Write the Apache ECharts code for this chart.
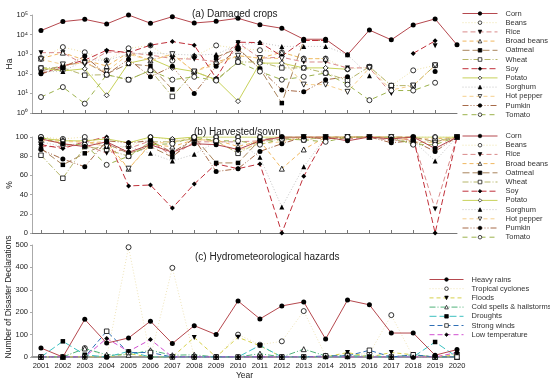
<!DOCTYPE html>
<html><head><meta charset="utf-8">
<script src="https://cdn.jsdelivr.net/npm/echarts@6/dist/echarts.min.js"></script>
<style>html,body{margin:0;padding:0;background:#fff}#c{width:550px;height:383px}</style>
</head><body><div id="c"></div>
<script>
const years = [2001,2002,2003,2004,2005,2006,2007,2008,2009,2010,2011,2012,2013,2014,2015,2016,2017,2018,2019,2020];
const logTicks = ['10⁰','10¹','10²','10³','10⁴','10⁵'];
const pctTicks = [0,20,40,60,80,100];
const countTicks = [0,100,200,300,400,500];

// (a) Damaged crops (Ha)
const cornA    = [16000,46000,60000,35000,100000,38000,82000,39000,48000,68000,32000,21000,5800,5800,930,17000,5400,31000,63000,3000];
const beansA   = [630,2300,1250,480,2000,2800,470,760,2800,2000,1600,1250,600,600,170,230,25,150,270,null];
const riceA    = [1200,1200,290,1300,1200,900,600,560,420,3800,630,700,400,400,200,200,10,null,2700,null];
const broadA   = [600,1200,500,250,1200,480,1000,130,400,830,630,1250,590,590,null,null,null,null,null,null];
const oatA     = [140,260,400,100,320,250,16,null,700,2000,180,3.2,5000,5000,null,null,null,null,null,null];
const wheatA   = [200,200,85,90,50,150,7,130,50,400,400,200,200,110,46,230,25,25,270,null];
const soyA     = [100,250,500,1600,1200,2900,4400,2900,60,4100,3900,800,5000,5000,null,null,null,1100,4800,null];
const potatoA  = [200,140,180,8,350,600,200,130,50,4,350,350,200,200,170,null,null,null,null,null];
const sorghumA = [130,130,500,500,1000,1200,1000,900,1000,3000,3900,2500,2500,2500,930,80,null,null,null,null];
const pepperA  = [550,300,350,130,1000,480,1000,130,300,830,630,600,28,28,12,200,15,25,270,null];
const pumkinA  = [100,200,800,90,560,70,240,10,240,1800,180,15,12,50,70,null,null,null,130,null];
const tomatoA  = [6.5,21,3,90,50,150,50,70,45,400,130,50,70,110,28,4.5,14,14,35,null];

// (b) Harvested/sown (%)
const cornB    = [98,93,90,95,84,92,84,93,92,87,96,100,100,100,96,100,98,100,88,100];
const beansB   = [100,98,100,88,90,100,97,100,100,100,100,100,97,100,100,100,100,100,100,100];
const riceB    = [90,90,92,83,88,96,80,95,95,95,96,98,100,100,98,100,96,98,25,100];
const broadB   = [97,97,94,95,67,92,90,97,97,90,96,67,87,100,100,100,100,98,98,100];
const oatB     = [88,71,83,93,83,90,79,100,73,73,97,100,100,100,100,100,100,100,95,100];
const wheatB   = [81,57,90,87,80,95,95,98,96,83,95,98,97,100,100,100,98,93,96,100];
const soyB     = [92,88,95,100,49,50,26,51,72,67,72,0,59,100,100,100,100,100,0,100];
const potatoB  = [99,96,96,98,94,100,98,100,100,100,100,100,100,100,100,100,100,100,100,100];
const sorghumB = [95,90,95,90,90,83,75,82,95,95,79,27,69,100,100,100,97,96,75,100];
const pepperB  = [96,95,95,90,67,93,95,99,94,86,93,95,100,100,100,100,100,95,94,100];
const pumkinB  = [87,77,69,96,94,96,84,98,64,67,85,93,100,98,100,100,94,96,85,100];
const tomatoB  = [100,92,92,71,80,92,93,100,96,96,92,98,97,95,100,100,100,92,92,100];

// (c) Hydrometeorological hazards (number of disaster declarations)
const heavyRains = [40,0,168,62,85,160,60,140,100,250,170,228,246,80,254,233,107,107,8,33];
const tropical   = [0,0,40,0,490,0,398,0,0,100,55,70,205,5,10,15,187,0,0,15];
const floods     = [0,0,0,0,15,0,0,87,0,88,50,0,0,0,20,0,20,10,0,10];
const coldSpells = [0,0,38,10,10,30,8,10,0,0,15,0,35,5,5,5,0,10,0,0];
const droughts   = [0,70,10,0,25,0,0,0,0,0,52,0,0,0,0,0,0,0,67,0];
const winds      = [0,0,0,115,20,20,0,0,0,0,0,0,0,5,5,30,0,10,0,0];
const lowTemp    = [0,0,0,83,25,78,0,0,0,0,0,0,0,0,0,0,0,0,0,20];

const cropNames = ['Corn','Beans','Rice','Broad beans','Oatmeal','Wheat','Soy','Potato','Sorghum','Hot pepper','Pumkin','Tomato'];
const hazardNames = ['Heavy rains','Tropical cyclones','Floods','Cold spells & hailstorms','Droughts','Strong winds','Low temperature'];

const FONT = 'Liberation Sans, Arial, sans-serif';
const cropStyle = {
  'Corn':       {c:'#b5484e', t:'solid',       s:'circle',   f:true},
  'Beans':      {c:'#eee2a6', t:[1,2],         s:'circle',   f:false},
  'Rice':       {c:'#d98a8a', t:[5,3],         s:'triangle', f:true, r:180},
  'Broad beans':{c:'#f0b860', t:[4,3],         s:'triangle', f:false},
  'Oatmeal':    {c:'#a8845c', t:[7,3],         s:'rect',     f:true},
  'Wheat':      {c:'#b6b66a', t:[6,2,1,2],     s:'rect',     f:false},
  'Soy':        {c:'#c0303a', t:[6,3],         s:'diamond',  f:true},
  'Potato':     {c:'#c8d25a', t:'solid',       s:'diamond',  f:false},
  'Sorghum':    {c:'#c4c4c4', t:[1,2],         s:'triangle', f:true},
  'Hot pepper': {c:'#f6cf8c', t:[4,3],         s:'triangle', f:false, r:180},
  'Pumkin':     {c:'#a66a48', t:[6,2,1,2,1,2], s:'circle',   f:true},
  'Tomato':     {c:'#9cb24c', t:[5,4],         s:'circle',   f:false}
};
const hazStyle = {
  'Heavy rains':             {c:'#b5484e', t:'solid',   s:'circle',   f:true},
  'Tropical cyclones':       {c:'#eee3b8', t:[1,2],     s:'circle',   f:false},
  'Floods':                  {c:'#d6d04a', t:[4,3],     s:'triangle', f:true, r:180},
  'Cold spells & hailstorms':{c:'#4fb37a', t:[6,2,1,2], s:'triangle', f:false},
  'Droughts':                {c:'#3cc0c0', t:[7,3],     s:'rect',     f:true},
  'Strong winds':            {c:'#2f6fb5', t:[5,3],     s:'rect',     f:false},
  'Low temperature':         {c:'#d04fd0', t:[5,3],     s:'diamond',  f:true}
};
const dataA = [cornA,beansA,riceA,broadA,oatA,wheatA,soyA,potatoA,sorghumA,pepperA,pumkinA,tomatoA];
const dataB = [cornB,beansB,riceB,broadB,oatB,wheatB,soyB,potatoB,sorghumB,pepperB,pumkinB,tomatoB];
const dataC = [heavyRains,tropical,floods,coldSpells,droughts,winds,lowTemp];

function mk(name, st, arr, idx){
  return {
    type:'line', name, xAxisIndex:idx, yAxisIndex:idx,
    data: years.map((y,i)=>[y, arr[i]]),
    symbol: st.s, symbolSize: st.s==='rect'?4.5:5, symbolRotate: st.r||0,
    itemStyle:{color: st.f?'#000':'#fff', borderColor:'#000', borderWidth: st.f?0:0.8},
    lineStyle:{color: st.c, width:1, type: st.t},
    silent:true, animation:false, z: name==='Corn'||name==='Heavy rains'?3:2
  };
}
const series = [];
cropNames.forEach((n,i)=>series.push(mk(n, cropStyle[n], dataA[i], 0)));
cropNames.forEach((n,i)=>series.push(mk(n, cropStyle[n], dataB[i], 1)));
hazardNames.forEach((n,i)=>series.push(mk(n, hazStyle[n], dataC[i], 2)));

const XMIN = 2000.59, XMAX = 2020;
function xAx(idx, labels){
  return {
    type:'value', gridIndex:idx, min:XMIN, max:XMAX, splitLine:{show:false},
    axisLine:{show:true, lineStyle:{color: labels?'#999':'#777', width: labels?2:1}},
    axisTick:{show:!labels, inside:true, length:3, lineStyle:{color:'#777'}, customValues: years.slice(0,19)},
    axisLabel:{show:labels, customValues: years, fontSize:7.5, color:'#222', fontFamily:FONT, margin:5, formatter: v=>String(Math.round(v))},
    name: labels?'Year':'', nameLocation:'middle', nameGap:14,
    nameTextStyle:{fontSize:8.5, color:'#222', fontFamily:FONT}
  };
}
const yCommon = {
  splitLine:{show:false},
  axisLine:{show:true, lineStyle:{color:'#aaa'}},
  axisTick:{show:true, length:2, lineStyle:{color:'#aaa'}},
  axisLabel:{fontSize:7.5, color:'#222', fontFamily:FONT, margin:4}
};

const chart = echarts.init(document.getElementById('c'), null, {renderer:'canvas'});
const legendBase = {
  orient:'vertical', itemWidth:35, itemHeight:4.5, itemGap:1.2, padding:0,
  selectedMode:false,
  itemStyle:{borderWidth:0.7},
  lineStyle:{width:1},
  textStyle:{fontSize:7.5, color:'#333', fontFamily:FONT, padding:[0,0,0,3], lineHeight:7}
};
chart.setOption({
  animation:false,
  backgroundColor:'#fff',
  title:[
    {text:'(a) Damaged crops', left:187, top:4, textStyle:{fontSize:10, fontWeight:'normal', color:'#222', fontFamily:FONT}},
    {text:'(b) Harvested/sown', left:189, top:122, textStyle:{fontSize:10, fontWeight:'normal', color:'#222', fontFamily:FONT}},
    {text:'(c) Hydrometeorological hazards', left:190, top:247, textStyle:{fontSize:10, fontWeight:'normal', color:'#222', fontFamily:FONT}}
  ],
  grid:[
    {left:32, right:93, top:15, height:98},
    {left:32, right:93, top:137, height:96},
    {left:32, right:93, top:245, height:112}
  ],
  xAxis:[xAx(0,false), xAx(1,false), xAx(2,true)],
  yAxis:[
    Object.assign({}, yCommon, {type:'log', logBase:10, gridIndex:0, min:1, max:100000,
      axisLabel:Object.assign({}, yCommon.axisLabel, {formatter: v=>logTicks[Math.round(Math.log10(v))]})}),
    Object.assign({}, yCommon, {type:'value', gridIndex:1, min:pctTicks[0], max:pctTicks[pctTicks.length-1], interval:20}),
    Object.assign({}, yCommon, {type:'value', gridIndex:2, min:countTicks[0], max:countTicks[countTicks.length-1], interval:100})
  ],
  legend:[
    Object.assign({}, legendBase, {left:462, top:9.5, data:cropNames}),
    Object.assign({}, legendBase, {left:462, top:132, data:cropNames}),
    Object.assign({}, legendBase, {left:429, top:275.5, itemWidth:34, data:hazardNames})
  ],
  graphic:[
    {type:'text', x:10, y:64, rotation:Math.PI/2, style:{text:'Ha', fontSize:8.5, fill:'#222', fontFamily:FONT, textAlign:'center', textVerticalAlign:'middle'}},
    {type:'text', x:10, y:185, rotation:Math.PI/2, style:{text:'%', fontSize:8.5, fill:'#222', fontFamily:FONT, textAlign:'center', textVerticalAlign:'middle'}},
    {type:'text', x:9, y:297, rotation:Math.PI/2, style:{text:'Number of Disaster Declarations', fontSize:8.5, fill:'#222', fontFamily:FONT, textAlign:'center', textVerticalAlign:'middle'}}
  ],
  series
});
</script></body></html>
